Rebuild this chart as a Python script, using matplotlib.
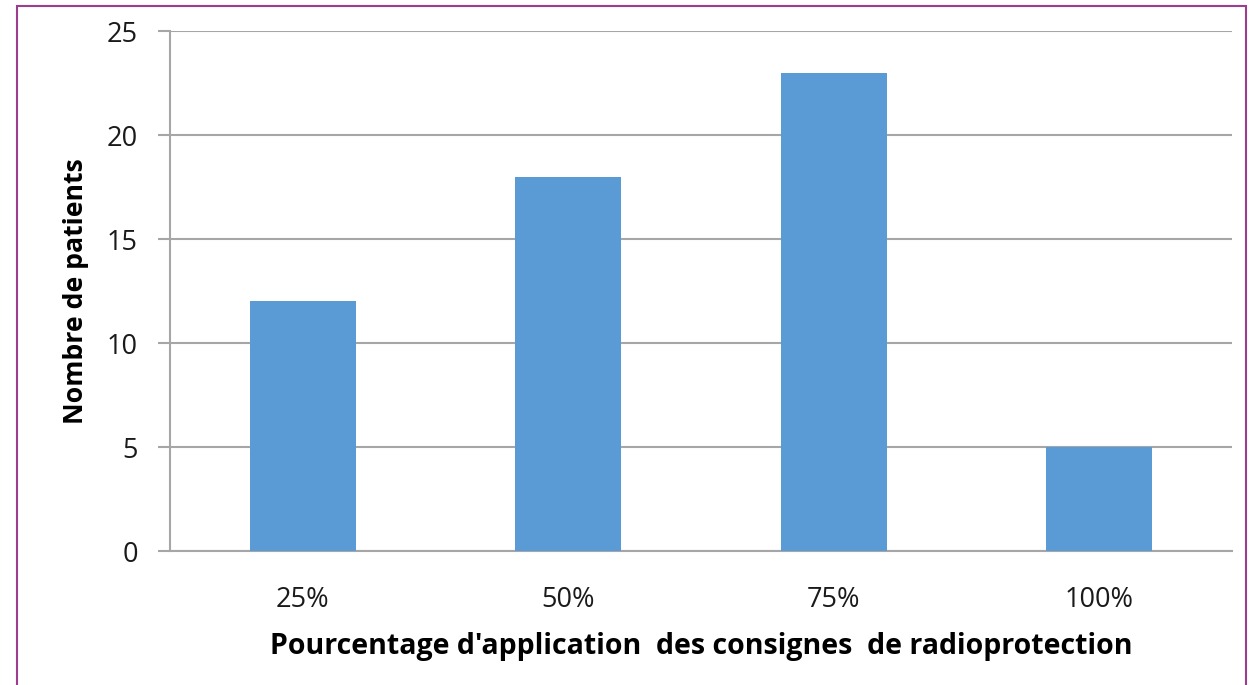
import matplotlib.pyplot as plt
from matplotlib.patches import Rectangle

categories = ["25%", "50%", "75%", "100%"]
patients = [12, 18, 23, 5]
y_ticks = [0, 5, 10, 15, 20, 25]

plt.rcParams['font.family'] = ['Open Sans', 'DejaVu Sans']

fig = plt.figure(figsize=(12.56, 6.85), dpi=100)
ax = fig.add_axes([170 / 1256, 1 - 551 / 685, 1062 / 1256, 520 / 685])

grid_col = "#a6a6a6"
x = range(len(categories))
ax.bar(x, patients, width=0.4, color="#5b9bd5", zorder=3)

ax.set_xlim(-0.5, len(categories) - 0.5)
ax.set_ylim(0, 25)
ax.set_yticks(y_ticks)
ax.set_xticks(list(x))
ax.set_xticklabels(categories)
ax.yaxis.grid(True, color=grid_col, linewidth=1.5, zorder=0)

for side in ["top", "right"]:
    ax.spines[side].set_visible(False)
ax.spines["left"].set_color(grid_col)
ax.spines["left"].set_linewidth(1.5)
ax.spines["bottom"].set_color(grid_col)
ax.spines["bottom"].set_linewidth(1.5)

ax.tick_params(axis="y", length=9, width=1.5, color=grid_col, pad=14,
               labelsize=19.5, labelcolor="#1a1a1a")
ax.tick_params(axis="x", length=0, pad=25, labelsize=19.5, labelcolor="#1a1a1a")

ax.set_ylabel("Nombre de patients", fontsize=19.2, fontweight="bold", labelpad=13)
ax.set_xlabel("Pourcentage d'application  des consignes  de radioprotection",
              fontsize=20.5, fontweight="bold", labelpad=13)

# purple frame around the chart
fig.patches.append(Rectangle((17 / 1256, -0.05), (1246 - 17) / 1256, 1 - 6 / 685 + 0.05,
                             transform=fig.transFigure, fill=False,
                             edgecolor="#9c3d8e", linewidth=1.5))

fig.savefig("out.png", dpi=100)
